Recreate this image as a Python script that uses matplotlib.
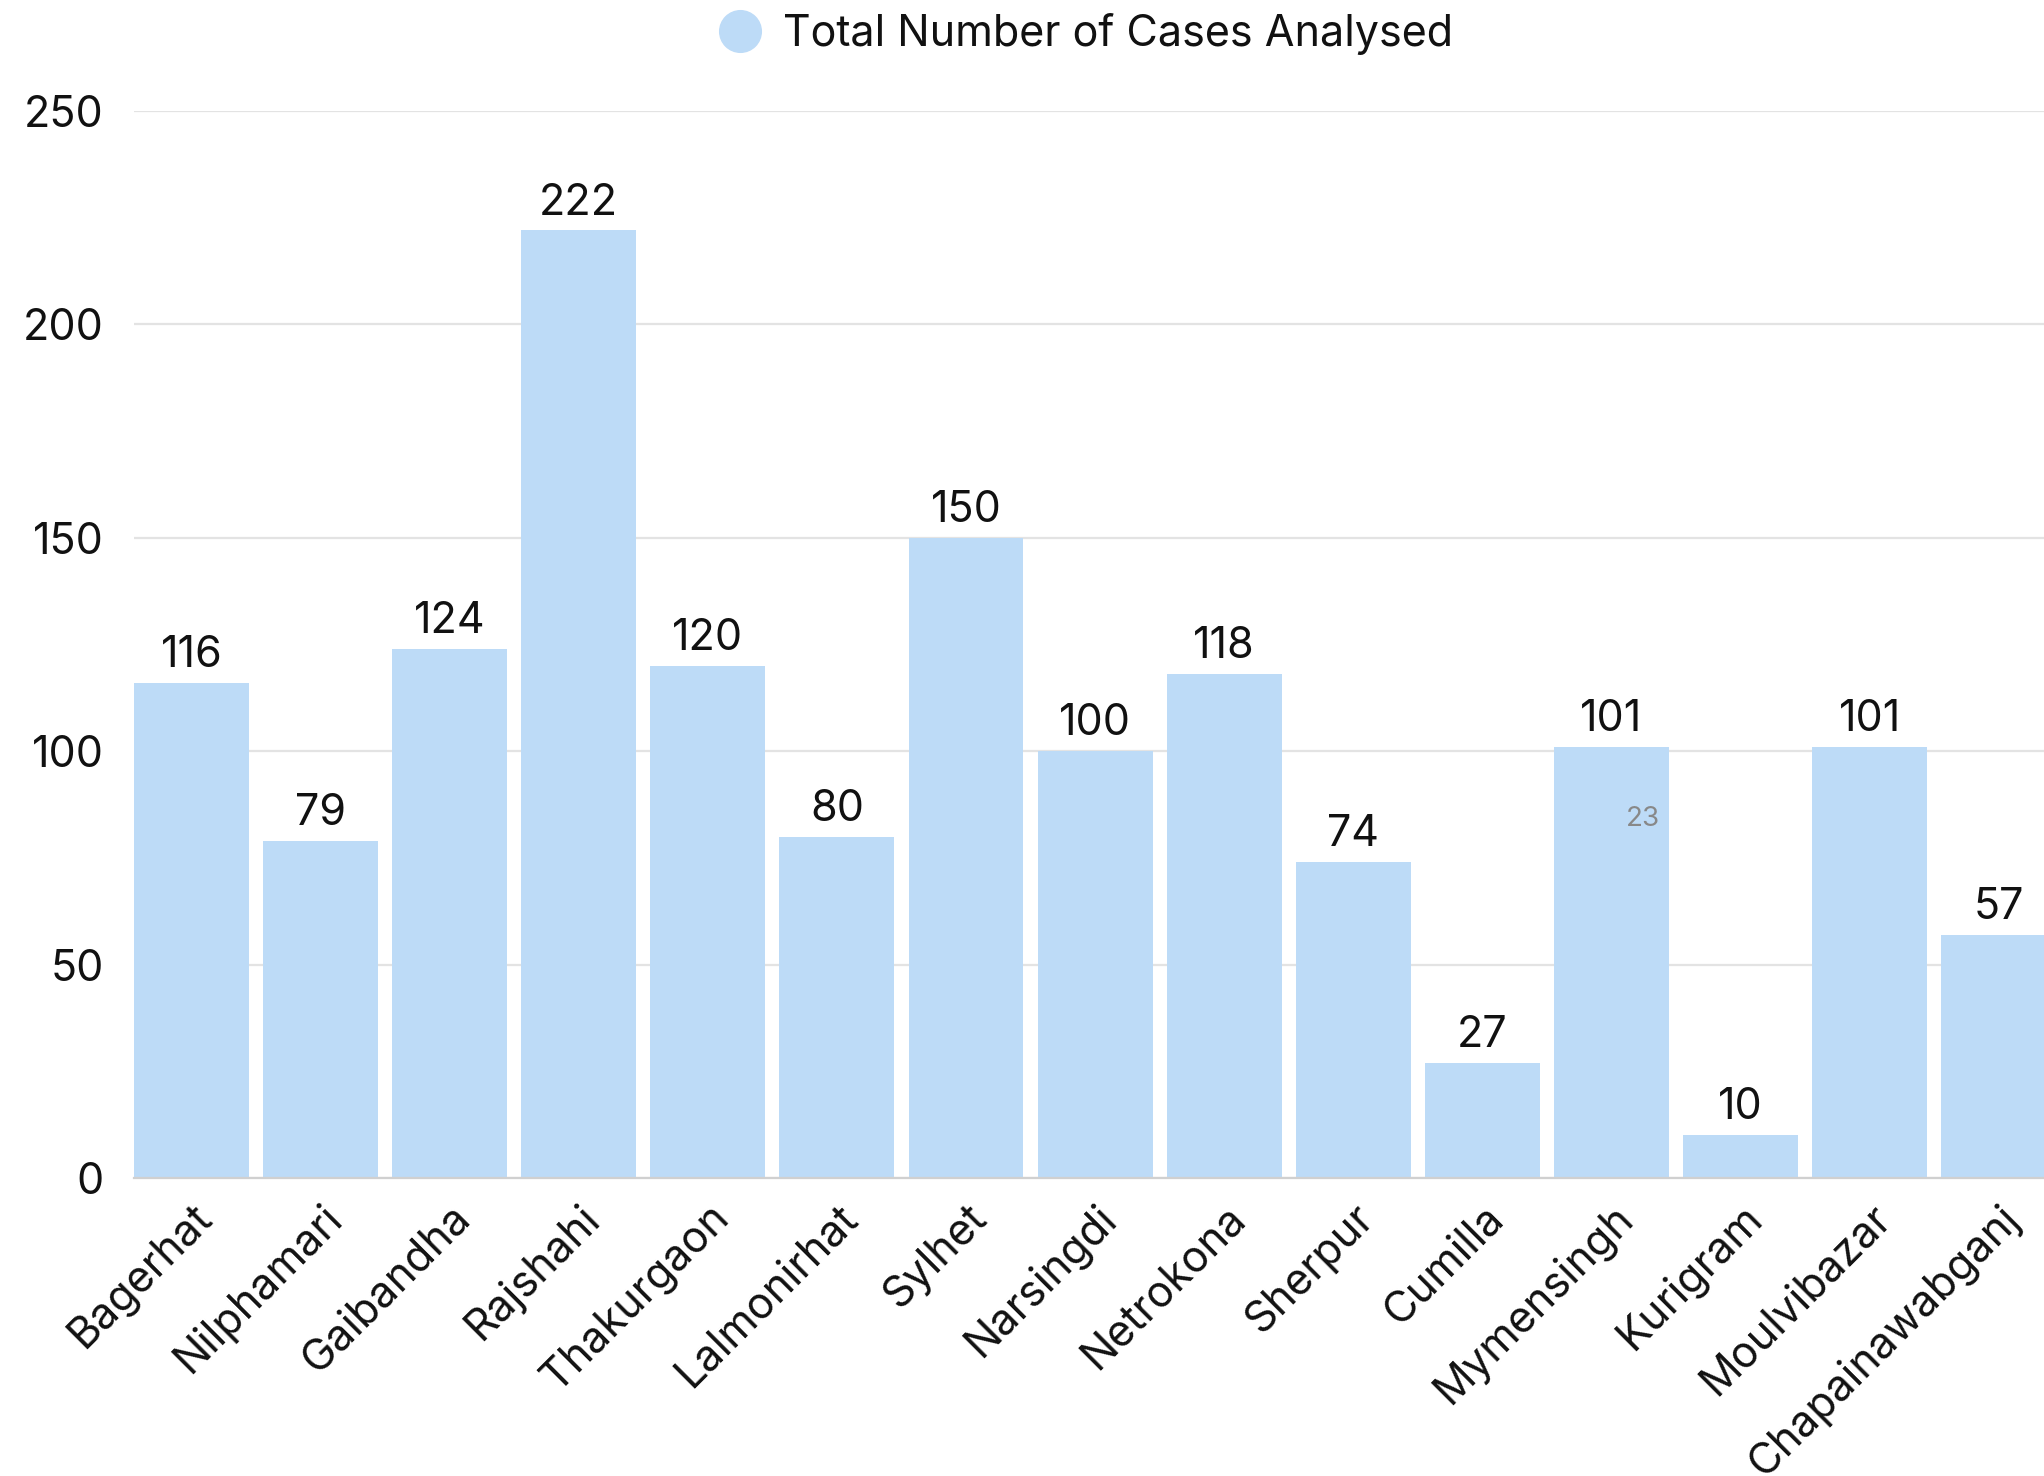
import matplotlib
matplotlib.use("Agg")
import matplotlib.pyplot as plt
from matplotlib.lines import Line2D
import numpy as np

plt.rcParams['font.family'] = ['Inter', 'DejaVu Sans']

# district names and case counts
districts = ["Bagerhat", "Nilphamari", "Gaibandha", "Rajshahi", "Thakurgaon",
             "Lalmonirhat", "Sylhet", "Narsingdi", "Netrokona", "Sherpur",
             "Cumilla", "Mymensingh", "Kurigram", "Moulvibazar", "Chapainawabganj"]
cases = [116, 79, 124, 222, 120, 80, 150, 100, 118, 74, 27, 101, 10, 101, 57]
series_label = "Total Number of Cases Analysed"
yticks = [0, 50, 100, 150, 200, 250]

bar_color = "#bddbf7"

fig = plt.figure(figsize=(20.44, 14.76), dpi=100)
ax = fig.add_axes([0.0656, 0.2019, 0.9344, 0.7229])

x = np.arange(len(districts))
bars = ax.bar(x, cases, width=0.89, color=bar_color, zorder=2)

# value labels above each bar
for b, v in zip(bars, cases):
    ax.annotate(str(v), (b.get_x() + b.get_width() / 2, b.get_height()),
                xytext=(0, 5), textcoords="offset points",
                ha="center", va="bottom", fontsize=31, color="#111111")

ax.set_xlim(-0.444, 14.35)
ax.set_ylim(0, 250)
ax.set_yticks(yticks)
ax.set_yticklabels([str(t) for t in yticks], fontsize=31, color="#111111")
ax.grid(axis="y", color="#e3e3e3", linewidth=1.6, zorder=0)
ax.tick_params(axis="both", length=0, pad=22)
ax.tick_params(axis="x", pad=14)

ax.set_xticks(x)
ax.set_xticklabels(districts, rotation=45, ha="right", va="top",
                   rotation_mode="anchor", fontsize=31, color="#111111")

for s in ["top", "right", "left"]:
    ax.spines[s].set_visible(False)
ax.spines["bottom"].set_color("#d0d0d0")
ax.spines["bottom"].set_linewidth(1.6)

# legend at top
handle = Line2D([], [], marker="o", linestyle="none", markersize=30,
                markerfacecolor=bar_color, markeredgecolor=bar_color)
fig.legend([handle], [series_label], loc="center", bbox_to_anchor=(0.531, 0.977),
           frameon=False, fontsize=31, handlelength=1.0, handletextpad=0.5,
           labelcolor="#111111")

# small page-number artefact
ax.text(11.24, 84, "23", fontsize=20, color="#888888", ha="center", va="center", zorder=3)

fig.savefig("out.png", dpi=100)
